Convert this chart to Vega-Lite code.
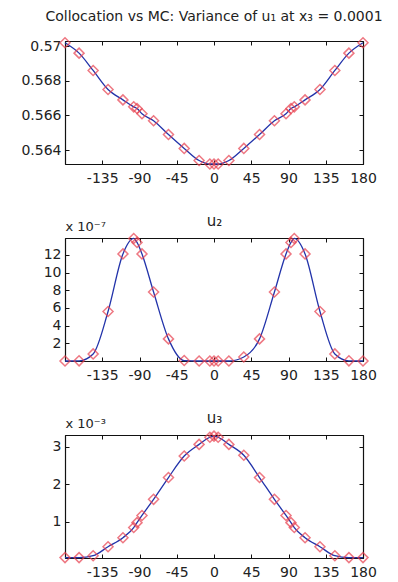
{
  "$schema": "https://vega.github.io/schema/vega-lite/v6.json",
  "padding": {"left": 20, "top": 9, "right": 0, "bottom": 0},
  "background": "white",
  "spacing": 74,
  "bounds": "flush",
  "datasets": {
    "d": [
      {"x": -180, "u1": 0.5702, "u2": 0, "u3": 0.05},
      {"x": -163, "u1": 0.5696, "u2": 0.02, "u3": 0.05},
      {"x": -146, "u1": 0.5686, "u2": 0.8, "u3": 0.1},
      {"x": -128, "u1": 0.5675, "u2": 5.6, "u3": 0.34},
      {"x": -110, "u1": 0.5669, "u2": 12.1, "u3": 0.58},
      {"x": -97, "u1": 0.5665, "u2": 13.85, "u3": 0.85},
      {"x": -93, "u1": 0.5664, "u2": 13.4, "u3": 0.98},
      {"x": -87, "u1": 0.5661, "u2": 12.1, "u3": 1.17},
      {"x": -73, "u1": 0.5657, "u2": 7.8, "u3": 1.6},
      {"x": -55, "u1": 0.5649, "u2": 2.5, "u3": 2.18},
      {"x": -36, "u1": 0.5641, "u2": 0.05, "u3": 2.75},
      {"x": -18, "u1": 0.5634, "u2": 0, "u3": 3.06},
      {"x": -5, "u1": 0.5632, "u2": 0, "u3": 3.25},
      {"x": 0, "u1": 0.5632, "u2": 0, "u3": 3.28},
      {"x": 5, "u1": 0.5632, "u2": 0, "u3": 3.25},
      {"x": 18, "u1": 0.5634, "u2": 0, "u3": 3.06},
      {"x": 36, "u1": 0.5641, "u2": 0.45, "u3": 2.77},
      {"x": 55, "u1": 0.5649, "u2": 2.5, "u3": 2.18},
      {"x": 73, "u1": 0.5657, "u2": 7.8, "u3": 1.6},
      {"x": 87, "u1": 0.5661, "u2": 12.1, "u3": 1.17},
      {"x": 93, "u1": 0.5664, "u2": 13.4, "u3": 0.98},
      {"x": 97, "u1": 0.5665, "u2": 13.85, "u3": 0.85},
      {"x": 110, "u1": 0.5669, "u2": 12.1, "u3": 0.58},
      {"x": 128, "u1": 0.5675, "u2": 5.6, "u3": 0.34},
      {"x": 146, "u1": 0.5686, "u2": 0.8, "u3": 0.1},
      {"x": 163, "u1": 0.5696, "u2": 0.02, "u3": 0.05},
      {"x": 180, "u1": 0.5702, "u2": 0, "u3": 0.05}
    ]
  },
  "vconcat": [
    {
      "data": {"name": "d"},
      "width": 298,
      "height": 123,
      "title": {"text": "Collocation vs  MC: Variance of u₁ at x₃ = 0.0001", "offset": 11},
      "layer": [
        {
          "mark": {"type": "line", "color": "#2233aa", "strokeWidth": 1.3, "interpolate": "monotone"},
          "encoding": {
            "x": {"field": "x", "type": "quantitative", "title": null,
              "scale": {"domain": [-180, 180], "nice": false, "zero": false},
              "axis": {"values": [-135, -90, -45, 0, 45, 90, 135, 180], "labelPadding": 11, "labelExpr": "datum.value < 0 ? '-' + abs(datum.value) : '' + datum.value"}},
            "y": {"field": "u1", "type": "quantitative", "title": null,
              "scale": {"domain": [0.5632, 0.5703], "nice": false, "zero": false},
              "axis": {"values": [0.564, 0.566, 0.568, 0.57], "labelExpr": "'' + datum.value"}}
          }
        },
        {
          "mark": {"type": "point", "shape": "diamond", "filled": false, "color": "#e8404f", "size": 100, "strokeWidth": 1.5},
          "encoding": {
            "x": {"field": "x", "type": "quantitative", "title": null,
              "scale": {"domain": [-180, 180], "nice": false, "zero": false},
              "axis": {"orient": "top", "labels": false, "values": [-135, -90, -45, 0, 45, 90, 135]}},
            "y": {"field": "u1", "type": "quantitative", "title": null,
              "scale": {"domain": [0.5632, 0.5703], "nice": false, "zero": false},
              "axis": {"orient": "right", "labels": false, "values": [0.564, 0.566, 0.568, 0.57]}}
          }
        }
      ],
      "resolve": {"axis": {"x": "independent", "y": "independent"}}
    },
    {
      "data": {"name": "d"},
      "width": 298,
      "height": 123,
      "layer": [
        {
          "mark": {"type": "line", "color": "#2233aa", "strokeWidth": 1.3, "interpolate": "monotone"},
          "encoding": {
            "x": {"field": "x", "type": "quantitative", "title": null,
              "scale": {"domain": [-180, 180], "nice": false, "zero": false},
              "axis": {"values": [-135, -90, -45, 0, 45, 90, 135, 180], "labelPadding": 11, "labelExpr": "datum.value < 0 ? '-' + abs(datum.value) : '' + datum.value"}},
            "y": {"field": "u2", "type": "quantitative", "title": "x 10⁻⁷",
              "scale": {"domain": [0, 13.9], "nice": false, "zero": false},
              "axis": {"values": [2, 4, 6, 8, 10, 12], "titleAngle": 0, "titleX": 0, "titleY": -8, "titleAlign": "left", "titleBaseline": "alphabetic"}}
          }
        },
        {
          "mark": {"type": "point", "shape": "diamond", "filled": false, "color": "#e8404f", "size": 100, "strokeWidth": 1.5},
          "encoding": {
            "x": {"field": "x", "type": "quantitative", "title": "u₂",
              "scale": {"domain": [-180, 180], "nice": false, "zero": false},
              "axis": {"orient": "top", "labels": false, "values": [-135, -90, -45, 0, 45, 90, 135], "titleFontSize": 15, "titlePadding": 9}},
            "y": {"field": "u2", "type": "quantitative", "title": null,
              "scale": {"domain": [0, 13.9], "nice": false, "zero": false},
              "axis": {"orient": "right", "labels": false, "values": [2, 4, 6, 8, 10, 12]}}
          }
        }
      ],
      "resolve": {"axis": {"x": "independent", "y": "independent"}}
    },
    {
      "data": {"name": "d"},
      "width": 298,
      "height": 123,
      "layer": [
        {
          "mark": {"type": "line", "color": "#2233aa", "strokeWidth": 1.3, "interpolate": "monotone"},
          "encoding": {
            "x": {"field": "x", "type": "quantitative", "title": null,
              "scale": {"domain": [-180, 180], "nice": false, "zero": false},
              "axis": {"values": [-135, -90, -45, 0, 45, 90, 135, 180], "labelPadding": 11, "labelExpr": "datum.value < 0 ? '-' + abs(datum.value) : '' + datum.value"}},
            "y": {"field": "u3", "type": "quantitative", "title": "x 10⁻³",
              "scale": {"domain": [0.04, 3.31], "nice": false, "zero": false},
              "axis": {"values": [1, 2, 3], "titleAngle": 0, "titleX": 0, "titleY": -8, "titleAlign": "left", "titleBaseline": "alphabetic"}}
          }
        },
        {
          "mark": {"type": "point", "shape": "diamond", "filled": false, "color": "#e8404f", "size": 100, "strokeWidth": 1.5},
          "encoding": {
            "x": {"field": "x", "type": "quantitative", "title": "u₃",
              "scale": {"domain": [-180, 180], "nice": false, "zero": false},
              "axis": {"orient": "top", "labels": false, "values": [-135, -90, -45, 0, 45, 90, 135], "titleFontSize": 15, "titlePadding": 9}},
            "y": {"field": "u3", "type": "quantitative", "title": null,
              "scale": {"domain": [0.04, 3.31], "nice": false, "zero": false},
              "axis": {"orient": "right", "labels": false, "values": [1, 2, 3]}}
          }
        }
      ],
      "resolve": {"axis": {"x": "independent", "y": "independent"}}
    }
  ],
  "config": {
    "view": {"stroke": "black", "strokeWidth": 1},
    "axis": {
      "grid": false,
      "domainColor": "#111",
      "domainWidth": 1.2,
      "tickColor": "#111",
      "tickSize": -4,
      "labelPadding": 8,
      "labelOverlap": false,
      "labelFlush": false,
      "labelFont": "DejaVu Sans",
      "labelFontSize": 14,
      "labelColor": "#222",
      "titleFont": "DejaVu Sans",
      "titleFontSize": 13,
      "titleFontWeight": "normal",
      "titleColor": "#222"
    },
    "title": {"font": "DejaVu Sans", "fontSize": 14, "fontWeight": "normal", "color": "#222", "anchor": "middle"}
  }
}
